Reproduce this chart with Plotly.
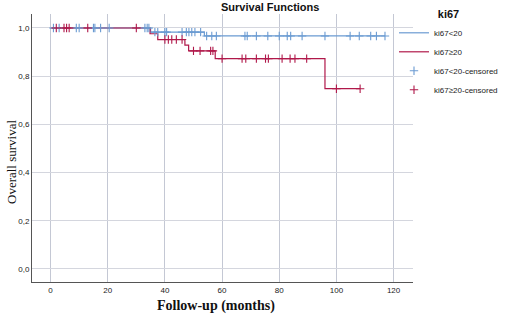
import plotly.graph_objects as go
import numpy as np

# ---- data ----
# step curves (time in months, survival probability)
low_times = [0, 35.0, 53.8, 117.0]
low_surv = [1.0, 0.983, 0.967, 0.967]
high_times = [0, 34.8, 37.5, 47.0, 48.3, 57.6, 96.0, 108.3]
high_surv = [1.0, 0.976, 0.952, 0.929, 0.905, 0.873, 0.748, 0.748]

# censored observations (months)
low_censored = [1, 3, 9, 10, 15, 15.5, 17.5, 20.5, 33, 33.8, 34.4,
                36.5, 37.5, 40, 40.6, 46, 47.5, 48.4, 49.4, 50.5, 52.5,
                54.6, 56.4, 58, 68, 68.8, 72, 76, 80, 82.8, 84, 88, 96,
                104.8, 108, 112, 114, 117]
high_censored = [2, 4.7, 5.6, 6.5, 13, 30,
                 40, 41.2, 42.4, 44, 46,
                 50, 52.3, 56, 56.8,
                 60, 67, 68.3, 72, 75.2, 76.2, 81, 83.8, 85.5, 89.6,
                 100, 108.3]

x_ticks = [0, 20, 40, 60, 80, 100, 120]
y_ticks = [0.0, 0.2, 0.4, 0.6, 0.8, 1.0]
y_tick_labels = ["0,0", "0,2", "0,4", "0,6", "0,8", "1,0"]

BLUE = "#6b9bd2"
RED = "#b0184a"


def surv_at(times, surv, t):
    idx = np.searchsorted(np.array(times), t, side="right") - 1
    return surv[max(idx, 0)]


fig = go.Figure()
fig.add_trace(go.Scatter(x=low_times, y=low_surv, mode="lines", line_shape="hv",
                         line=dict(color=BLUE, width=1.2), name="ki67<20"))
fig.add_trace(go.Scatter(x=high_times, y=high_surv, mode="lines", line_shape="hv",
                         line=dict(color=RED, width=1.2), name="ki67≥20"))
fig.add_trace(go.Scatter(x=low_censored,
                         y=[surv_at(low_times, low_surv, t) for t in low_censored],
                         mode="markers", name="ki67<20-censored",
                         marker=dict(symbol="cross-thin", size=6,
                                     line=dict(color=BLUE, width=1.1), color=BLUE)))
fig.add_trace(go.Scatter(x=high_censored,
                         y=[surv_at(high_times, high_surv, t) for t in high_censored],
                         mode="markers", name="ki67≥20-censored",
                         marker=dict(symbol="cross-thin", size=6,
                                     line=dict(color=RED, width=1.1), color=RED)))

W, H = 506, 318
l, r, t, b = 32, 93, 14, 36
pw, ph = W - l - r, H - t - b


def px2paper(px, py):
    return (px - l) / pw, (H - b - py) / ph


lgx, lgy = px2paper(394, 4)

fig.update_layout(
    width=W, height=H,
    margin=dict(l=l, r=r, t=t, b=b, autoexpand=False),
    paper_bgcolor="white", plot_bgcolor="white",
    font=dict(family="Liberation Sans, Arial", size=8, color="#222"),
    showlegend=True,
    legend=dict(x=lgx, y=lgy, xanchor="left", yanchor="top",
                title=dict(text="<b>ki67</b>", side="top center",
                           font=dict(size=11, color="#111")),
                font=dict(size=8, color="#222"),
                itemwidth=30, tracegroupgap=0, bgcolor="rgba(0,0,0,0)"),
    xaxis=dict(range=[-6.5, 126.8], tickvals=x_ticks, showgrid=True,
               gridcolor="#c4c8d4", gridwidth=1, zeroline=False,
               showline=True, linecolor="#555", linewidth=1, ticks="",
               tickfont=dict(size=8)),
    yaxis=dict(range=[-0.054, 1.058], tickvals=y_ticks, ticktext=y_tick_labels,
               showgrid=True, gridcolor="#d4d6de", gridwidth=1, zeroline=False,
               showline=True, linecolor="#555", linewidth=1, ticks="",
               tickfont=dict(size=8)),
)

ax, ay = px2paper(270, 7)
bx, by = px2paper(216, 306)
cx, cy = px2paper(11, 162)
fig.add_annotation(text="<b>Survival Functions</b>", x=ax, y=ay, xref="paper", yref="paper",
                   xanchor="center", yanchor="middle", showarrow=False,
                   font=dict(family="Liberation Sans, Arial", size=11, color="#111"))
fig.add_annotation(text="<b>Follow-up (months)</b>", x=bx, y=by, xref="paper", yref="paper",
                   xanchor="center", yanchor="middle", showarrow=False,
                   font=dict(family="Liberation Serif, Times New Roman", size=14, color="#111"))
fig.add_annotation(text="Overall survival", x=cx, y=cy, xref="paper", yref="paper",
                   xanchor="center", yanchor="middle", showarrow=False, textangle=-90,
                   font=dict(family="Liberation Serif, Times New Roman", size=13, color="#111"))

fig.write_html("out.html", config={"displayModeBar": False},
               post_script="document.body.style.margin='0';")
